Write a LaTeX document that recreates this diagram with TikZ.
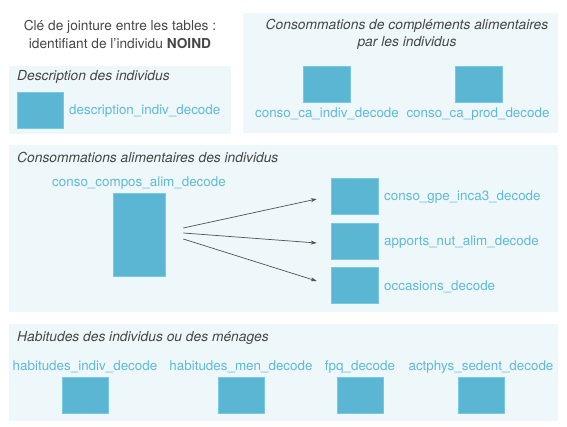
\documentclass[tikz,border=0pt]{standalone}
\usepackage{fontspec}
\setmainfont{TeX Gyre Heros}
\usetikzlibrary{arrows.meta}
\definecolor{boxfill}{RGB}{91,182,211}
\definecolor{boxedge}{RGB}{120,200,225}
\definecolor{labelblue}{RGB}{95,186,216}
\definecolor{panelbg}{RGB}{238,247,250}
\definecolor{titlegrey}{RGB}{70,70,70}
\definecolor{arrowgrey}{RGB}{80,80,80}
\tikzset{
  panel/.style={fill=panelbg, draw=none},
  tbl/.style={rectangle, fill=boxfill, draw=boxedge, line width=0.6pt, inner sep=0pt, minimum width=46pt, minimum height=36pt},
  lbl/.style={text=labelblue, font=\fontsize{13.4}{15}\selectfont, inner sep=0pt},
  ptitle/.style={text=titlegrey, font=\fontsize{13.8}{15}\selectfont\itshape, inner sep=0pt},
  keytxt/.style={text=titlegrey, font=\fontsize{13.7}{15}\selectfont, inner sep=0pt},
  arr/.style={draw=arrowgrey, line width=0.7pt, -{Stealth[length=6pt,width=4pt]}}
}
\begin{document}
\begin{tikzpicture}[x=1pt,y=-1pt]
\useasboundingbox (0,0) rectangle (567,427);
% panels
\fill[panel] (9,66) rectangle (231,134);
\fill[panel] (243,13) rectangle (558,133);
\fill[panel] (9,145) rectangle (558,312);
\fill[panel] (9,324) rectangle (558,421);
% key text
\node[keytxt] (k1) at (120,27) {Clé de jointure entre les tables :};
\node[keytxt] (k2) at (120,44) {identifiant de l’individu \textbf{NOIND}};
% description
\node[ptitle, anchor=west] (tdesc) at (17,77) {Description des individus};
\node[tbl] (desc) at (40,110) {};
\node[lbl, anchor=west] (ldesc) at (69,111) {description\_indiv\_decode};
% complements
\node[ptitle] (tca1) at (407,26) {Consommations de compléments alimentaires};
\node[ptitle] (tca2) at (407,43) {par les individus};
\node[tbl, minimum width=47pt] (caindiv) at (326.5,84) {};
\node[tbl, minimum width=47pt] (caprod) at (478.5,84) {};
\node[lbl] (lcaindiv) at (327,114) {conso\_ca\_indiv\_decode};
\node[lbl] (lcaprod) at (478,114) {conso\_ca\_prod\_decode};
% consommations alimentaires
\node[ptitle, anchor=west] (talim) at (17,157) {Consommations alimentaires des individus};
\node[lbl] (lcompos) at (139,183) {conso\_compos\_alim\_decode};
\node[tbl, minimum width=52pt, minimum height=83pt] (compos) at (139,234.5) {};
\node[tbl, minimum width=47pt] (gpe) at (354.5,196) {};
\node[tbl, minimum width=47pt] (apports) at (354.5,241) {};
\node[tbl, minimum width=47pt] (occ) at (354.5,285) {};
\node[lbl, anchor=west] (lgpe) at (384,197) {conso\_gpe\_inca3\_decode};
\node[lbl, anchor=west] (lapports) at (384,242) {apports\_nut\_alim\_decode};
\node[lbl, anchor=west] (locc) at (384,287) {occasions\_decode};
\draw[arr] ([xshift=18pt,yshift=6.5pt]compos.east) -- ([xshift=-14pt,yshift=-3pt]gpe.west);
\draw[arr] ([xshift=18pt,yshift=1.5pt]compos.east) -- ([xshift=-14pt,yshift=-2pt]apports.west);
\draw[arr] ([xshift=18pt,yshift=-4.5pt]compos.east) -- ([xshift=-14pt,yshift=4pt]occ.west);
% habitudes
\node[ptitle, anchor=west] (thab) at (17,338) {Habitudes des individus ou des ménages};
\node[lbl] (lhindiv) at (85,367) {habitudes\_indiv\_decode};
\node[lbl] (lhmen) at (241,367) {habitudes\_men\_decode};
\node[lbl] (lfpq) at (360,367) {fpq\_decode};
\node[lbl] (lact) at (481,367) {actphys\_sedent\_decode};
\node[tbl] (hindiv) at (85,395) {};
\node[tbl] (hmen) at (241,395) {};
\node[tbl] (fpq) at (360,395) {};
\node[tbl] (act) at (481,395) {};
\end{tikzpicture}
\end{document}
